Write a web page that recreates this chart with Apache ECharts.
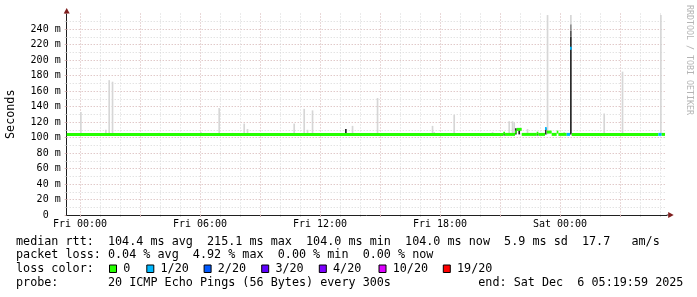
<!DOCTYPE html>
<html><head><meta charset="utf-8">
<script src="https://cdn.jsdelivr.net/npm/echarts@6/dist/echarts.min.js"></script>
<style>html,body{margin:0;padding:0;background:#fff}#c{width:697px;height:297px}</style>
</head><body><div id="c"></div>
<script>
// ---------- data ----------
const dayNames = ['Thu', 'Fri', 'Sat'];
const startOffsetMinutes = -40;   // Thu 23:20 relative to Fri 00:00
const stepMinutes = 5;            // 300 s probe step
const slotCount = 360;            // 30 h window
const xTickLabels = ['Fri 00:00', 'Fri 06:00', 'Fri 12:00', 'Fri 18:00', 'Sat 00:00'];
const yTickValues = [0, 20, 40, 60, 80, 100, 120, 140, 160, 180, 200, 220, 240];

// smoke: [time, low ms, high ms, density level 0 (light) .. 3 (dark)]
const smoke = [
  ['Fri 00:00', 104, 133, 0],
  ['Fri 01:15', 104, 110, 0],
  ['Fri 01:25', 104, 174, 0],
  ['Fri 01:35', 104, 172, 0],
  ['Fri 03:55', 104, 106, 0],
  ['Fri 06:00', 104, 107, 0],
  ['Fri 06:55', 104, 138, 0],
  ['Fri 07:35', 104, 106, 0],
  ['Fri 08:10', 104, 118, 0],
  ['Fri 08:20', 104, 111, 0],
  ['Fri 10:40', 104, 118, 0],
  ['Fri 11:10', 104, 137, 0],
  ['Fri 11:20', 104, 110, 0],
  ['Fri 11:35', 104, 135, 0],
  ['Fri 13:15', 104, 111, 3],
  ['Fri 13:35', 104, 115, 0],
  ['Fri 14:50', 104, 151, 0],
  ['Fri 17:35', 104, 115, 0],
  ['Fri 17:40', 104, 107, 0],
  ['Fri 18:40', 104, 129, 0],
  ['Fri 20:35', 104, 107, 0],
  ['Fri 21:10', 102.5, 106, 3],
  ['Fri 21:25', 104, 121, 0],
  ['Fri 21:35', 104, 121, 0],
  ['Fri 21:40', 104, 119, 0],
  ['Fri 21:45', 104, 112, 3],
  ['Fri 21:55', 104, 112, 3],
  ['Fri 22:20', 104, 111, 0],
  ['Fri 22:50', 102.5, 105.5, 3],
  ['Fri 23:15', 104, 112, 3],
  ['Fri 23:20', 104, 258, 0],
  ['Sat 00:10', 104, 107, 0],
  ['Sat 00:30', 104, 230, 3],
  ['Sat 00:30', 230, 238, 2],
  ['Sat 00:30', 238, 246, 1],
  ['Sat 00:30', 246, 258, 0],
  ['Sat 02:10', 104, 131, 0],
  ['Sat 03:05', 104, 185, 0],
  ['Sat 05:00', 104, 258, 0]
];

// median rtt runs: [from, to, median ms, lost pings of 20]
const medianRuns = [
  ['Thu 23:20', 'Fri 21:10', 104.0, 0],
  ['Fri 21:10', 'Fri 21:15', 105.5, 0],
  ['Fri 21:15', 'Fri 21:45', 104.0, 0],
  ['Fri 21:45', 'Fri 21:50', 107.0, 0],
  ['Fri 21:50', 'Fri 22:05', 110.5, 0],
  ['Fri 22:05', 'Fri 22:50', 104.0, 0],
  ['Fri 22:50', 'Fri 22:55', 105.5, 0],
  ['Fri 22:55', 'Fri 23:15', 104.0, 0],
  ['Fri 23:15', 'Fri 23:20', 111.5, 1],
  ['Fri 23:20', 'Fri 23:35', 107.0, 0],
  ['Fri 23:35', 'Fri 23:50', 104.0, 0],
  ['Fri 23:50', 'Fri 23:55', 107.0, 0],
  ['Fri 23:55', 'Sat 00:20', 104.0, 0],
  ['Sat 00:20', 'Sat 00:30', 104.0, 1],
  ['Sat 00:30', 'Sat 00:35', 215.1, 1],
  ['Sat 00:35', 'Sat 04:55', 104.0, 0],
  ['Sat 04:55', 'Sat 05:05', 104.0, 1],
  ['Sat 05:05', 'Sat 05:15', 104.0, 0]
];

const lossKeys = [0, 1, 2, 3, 4, 10, 19];
const lossLabels = ['0', '1/20', '2/20', '3/20', '4/20', '10/20', '19/20'];
const statsLine1 = 'median rtt:  104.4 ms avg  215.1 ms max  104.0 ms min  104.0 ms now  5.9 ms sd  17.7   am/s';
const statsLine2 = 'packet loss: 0.04 % avg  4.92 % max  0.00 % min  0.00 % now';
const lossTitle = 'loss color:';
const probeLine = 'probe:       20 ICMP Echo Pings (56 Bytes) every 300s';
const endLine = 'end: Sat Dec  6 05:19:59 2025';
const watermark = 'RRDTOOL / TOBI OETIKER';

// ---------- styles ----------
const lossColors = {0: '#26ff00', 1: '#00b8ff', 2: '#0059ff', 3: '#5e00ff', 4: '#7e00ff', 10: '#dd00ff', 19: '#ff0000'};
const smokeShades = ['#d6d6d6', '#8c8c8c', '#555555', '#262626'];
const MONO = 'DejaVu Sans Mono';
const gridMajor = '#d3b0b0', gridMinor = '#d7d7d7', axisCol = '#202020', arrowCol = '#7f1f1f';

// ---------- categories (5 minute slots) ----------
function pad(n) { return (n < 10 ? '0' : '') + n; }
const categories = [];
const catMinutes = [];
for (let i = 0; i <= slotCount; i++) {
  const m = startOffsetMinutes + i * stepMinutes;
  const d = Math.floor(m / 1440);
  const mm = ((m % 1440) + 1440) % 1440;
  categories.push(dayNames[d + 1] + ' ' + pad(Math.floor(mm / 60)) + ':' + pad(mm % 60));
  catMinutes.push(m);
}
const idx = t => categories.indexOf(t);
const isMajor = i => ((catMinutes[i] % 180) + 180) % 180 === 0;
const isHour = i => ((catMinutes[i] % 60) + 60) % 60 === 0;

const smokeData = smoke.map(s => [idx(s[0]), s[1], s[2], s[3]]);
const medianData = medianRuns.map(r => [idx(r[0]), idx(r[1]), r[2], r[3]]);

const G = {left: 66.7, right: 30.3, top: 13.5, bottom: 82};
const W = 697, H = 297;
const gx1 = W - G.right, gy0 = H - G.bottom;

const chart = echarts.init(document.getElementById('c'), null, {renderer: 'canvas'});

const graphic = [
  // axis arrows
  {type: 'line', shape: {x1: gx1, y1: gy0, x2: gx1 + 2, y2: gy0}, style: {stroke: axisCol, lineWidth: 1}, z: 10},
  {type: 'polygon', shape: {points: [[gx1 + 1.5, gy0 - 3], [gx1 + 7, gy0], [gx1 + 1.5, gy0 + 3]]}, style: {fill: arrowCol}, z: 10},
  {type: 'polygon', shape: {points: [[G.left - 3, G.top], [G.left, G.top - 5.5], [G.left + 3, G.top]]}, style: {fill: arrowCol}, z: 10},
  // watermark
  {type: 'text', x: 689, y: 5, rotation: -Math.PI / 2,
   style: {text: watermark, font: '8.3px "' + MONO + '"', fill: '#b4b4b4', align: 'left', verticalAlign: 'middle'}},
  // legend lines
  {type: 'text', x: 16, y: 241.7, style: {text: statsLine1, font: '11.75px "' + MONO + '"', fill: '#000', verticalAlign: 'middle'}},
  {type: 'text', x: 16, y: 255.2, style: {text: statsLine2, font: '11.75px "' + MONO + '"', fill: '#000', verticalAlign: 'middle'}},
  {type: 'text', x: 16, y: 269.2, style: {text: lossTitle, font: '11.75px "' + MONO + '"', fill: '#000', verticalAlign: 'middle'}},
  {type: 'text', x: 16, y: 282.8, style: {text: probeLine, font: '11.75px "' + MONO + '"', fill: '#000', verticalAlign: 'middle'}},
  {type: 'text', x: 478.3, y: 282.8, style: {text: endLine, font: '11.75px "' + MONO + '"', fill: '#000', verticalAlign: 'middle'}}
];
const boxX = [109, 146.3, 203.6, 261.2, 318.8, 378.5, 442.8];
lossKeys.forEach((k, i) => {
  graphic.push({type: 'rect', shape: {x: boxX[i] + 0.5, y: 265, width: 7, height: 7.5}, style: {fill: lossColors[k], stroke: '#000', lineWidth: 1}});
  graphic.push({type: 'text', x: boxX[i] + 14.2, y: 269.2, style: {text: lossLabels[i], font: '11.75px "' + MONO + '"', fill: '#000', verticalAlign: 'middle'}});
});

chart.setOption({
  animation: false,
  backgroundColor: '#ffffff',
  grid: {left: G.left, right: G.right, top: G.top, bottom: G.bottom, containLabel: false, outerBoundsMode: 'none'},
  xAxis: [{
    type: 'category', data: categories, boundaryGap: false, position: 'bottom',
    axisLine: {show: true, lineStyle: {color: axisCol, width: 1}},
    axisTick: {show: true, length: 2, interval: i => isMajor(i), lineStyle: {color: gridMajor}},
    axisLabel: {show: true, interval: (i, v) => xTickLabels.indexOf(v) >= 0, margin: 4,
      fontFamily: MONO, fontSize: 10, color: '#000'},
    splitLine: {show: true, interval: i => isMajor(i), lineStyle: {color: gridMajor, type: [1, 2], width: 1}},
    z: 3
  }, {
    type: 'category', data: categories, boundaryGap: false, position: 'bottom',
    axisLine: {show: false},
    axisTick: {show: true, length: 2, interval: i => isHour(i) && !isMajor(i), lineStyle: {color: gridMinor}},
    axisLabel: {show: false},
    splitLine: {show: true, interval: i => isHour(i) && !isMajor(i), lineStyle: {color: gridMinor, type: [1, 2], width: 1}}
  }],
  yAxis: {
    type: 'value', min: 0, max: 260, interval: 20,
    name: 'Seconds', nameLocation: 'middle', nameGap: 50, nameRotate: 90,
    nameTextStyle: {fontFamily: MONO, fontSize: 11.75, color: '#000'},
    axisLine: {show: true, lineStyle: {color: axisCol, width: 1}},
    axisTick: {show: true, length: 2, lineStyle: {color: gridMajor}},
    minorTick: {show: true, splitNumber: 2, length: 2, lineStyle: {color: gridMinor}},
    axisLabel: {margin: 6, fontFamily: MONO, fontSize: 10, color: '#000', showMaxLabel: false,
      formatter: v => yTickValues.indexOf(v) < 0 ? '' : (v === 0 ? '0  ' : v + ' m')},
    splitLine: {show: true, showMaxLine: false, showMinLine: false, lineStyle: {color: gridMajor, type: [1, 2], width: 1}},
    minorSplitLine: {show: true, lineStyle: {color: gridMinor, type: [1, 2], width: 1}}
  },
  series: [{
    type: 'custom', name: 'smoke', xAxisIndex: 0, yAxisIndex: 0,
    data: smokeData, encode: {x: 0, y: [1, 2]}, z: 4,
    renderItem: (params, api) => {
      const a = api.coord([api.value(0), api.value(2)]);
      const b = api.coord([api.value(0) + 1, api.value(1)]);
      return {type: 'rect', shape: {x: a[0], y: a[1], width: b[0] - a[0], height: b[1] - a[1]},
        style: {fill: smokeShades[api.value(3)]}};
    }
  }, {
    type: 'custom', name: 'median', xAxisIndex: 0, yAxisIndex: 0,
    data: medianData, encode: {x: [0, 1], y: 2}, z: 5,
    renderItem: (params, api) => {
      const a = api.coord([api.value(0), api.value(2)]);
      const b = api.coord([api.value(1), api.value(2)]);
      return {type: 'rect', shape: {x: a[0], y: a[1] - 1.5, width: b[0] - a[0], height: 3},
        style: {fill: lossColors[api.value(3)]}};
    }
  }],
  graphic: graphic
});
</script>
</body></html>
